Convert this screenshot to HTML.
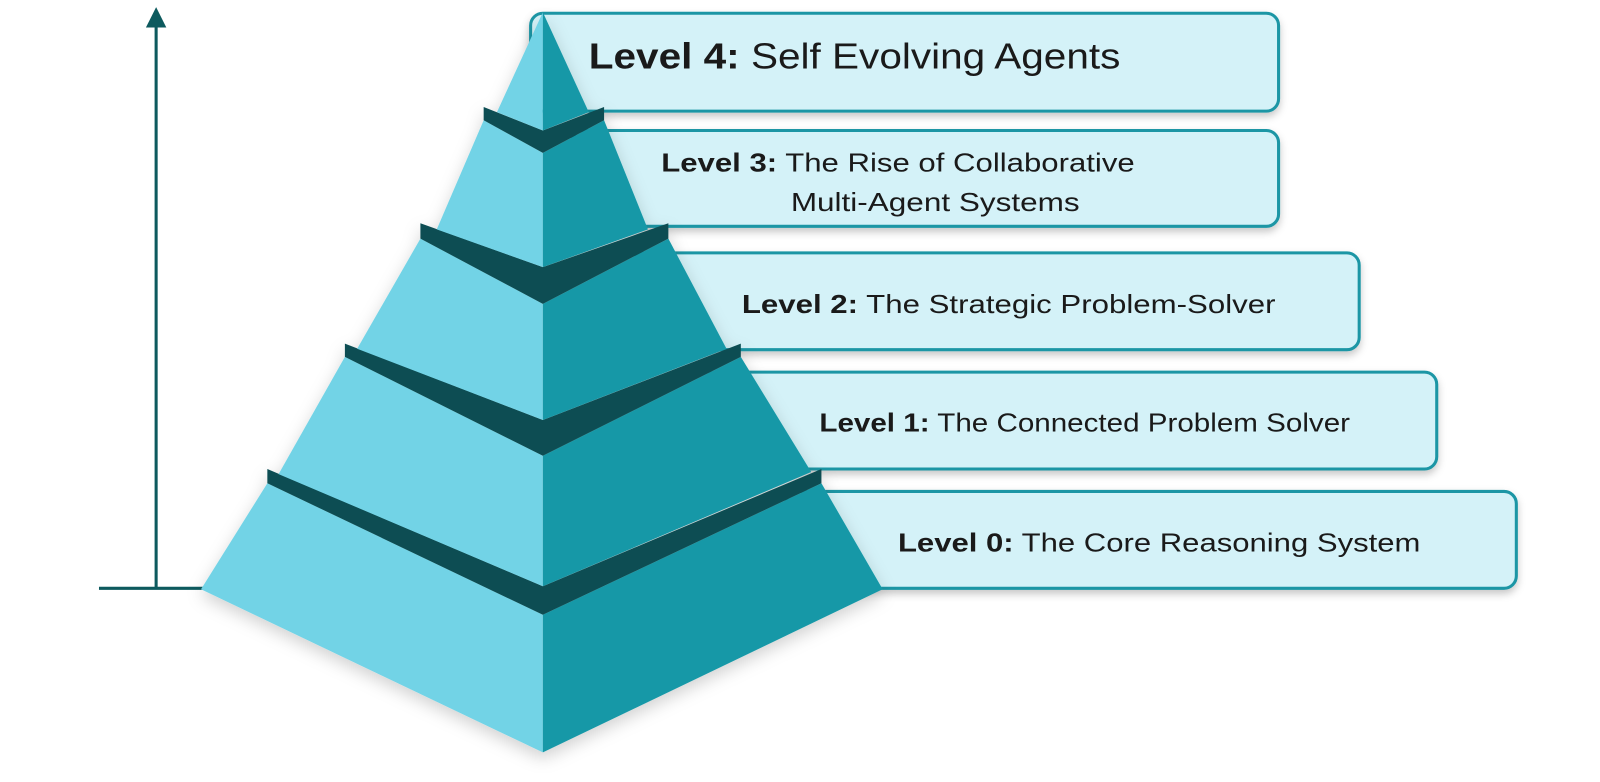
<!DOCTYPE html>
<html><head><meta charset="utf-8"><style>
html,body{margin:0;padding:0;background:#fff;width:1600px;height:782px;overflow:hidden}
svg{display:block}
text{font-family:"Liberation Sans",sans-serif;fill:#1a1a1a}
.b{font-weight:bold}
</style></head><body>
<svg width="1600" height="782" viewBox="0 0 1568 767" preserveAspectRatio="none" xmlns="http://www.w3.org/2000/svg">
<defs>
<filter id="sh" x="-5%" y="-20%" width="110%" height="150%"><feDropShadow dx="0" dy="4" stdDeviation="4" flood-color="#000" flood-opacity="0.22"/></filter>
<filter id="ps" x="-10%" y="-5%" width="120%" height="115%"><feDropShadow dx="0" dy="6" stdDeviation="8" flood-color="#000" flood-opacity="0.18"/></filter>
</defs>
<line x1="153" y1="22" x2="153" y2="578" stroke="#0d5a5e" stroke-width="3"/>
<polygon points="153,7 143,27 163,27" fill="#0d5a5e"/>
<line x1="97" y1="577" x2="200" y2="577" stroke="#0d5a5e" stroke-width="3"/>
<g filter="url(#sh)" fill="#d4f2f8" stroke="#1a96a5" stroke-width="3">
<rect x="520" y="13" width="733" height="96" rx="12"/>
<rect x="560" y="128" width="693" height="94" rx="12"/>
<rect x="620" y="248" width="712" height="95" rx="12"/>
<rect x="690" y="365" width="718" height="95" rx="12"/>
<rect x="770" y="482" width="716" height="95" rx="12"/>
</g>
<text x="577" y="67" font-size="35" textLength="521" lengthAdjust="spacingAndGlyphs"><tspan class="b">Level 4:</tspan> Self Evolving Agents</text>
<text x="648" y="168" font-size="25" textLength="464" lengthAdjust="spacingAndGlyphs"><tspan class="b">Level 3:</tspan> The Rise of Collaborative</text>
<text x="775" y="207" font-size="25" textLength="283" lengthAdjust="spacingAndGlyphs">Multi-Agent Systems</text>
<text x="727" y="307" font-size="25" textLength="523" lengthAdjust="spacingAndGlyphs"><tspan class="b">Level 2:</tspan> The Strategic Problem-Solver</text>
<text x="803" y="423" font-size="25" textLength="520" lengthAdjust="spacingAndGlyphs"><tspan class="b">Level 1:</tspan> The Connected Problem Solver</text>
<text x="880" y="541" font-size="25" textLength="512" lengthAdjust="spacingAndGlyphs"><tspan class="b">Level 0:</tspan> The Core Reasoning System</text>
<g filter="url(#ps)">
<polygon points="262,474 532,603 532,738 197,578" fill="#72d3e6"/>
<polygon points="532,603 805,474 865,578 532,738" fill="#1898a7"/>
<polygon points="262,460 532,575 805,460 805,474 532,603 262,474" fill="#0a4d52"/>
<polygon points="338,350 532,447 532,575 273,465" fill="#72d3e6"/>
<polygon points="532,447 726,350 795,463 532,575" fill="#1898a7"/>
<polygon points="338,337 532,412 726,337 726,350 532,447 338,350" fill="#0a4d52"/>
<polygon points="412,234 532,298 532,412 350,342" fill="#72d3e6"/>
<polygon points="532,298 655,234 712,342 532,412" fill="#1898a7"/>
<polygon points="412,219 532,262 655,219 655,234 532,298 412,234" fill="#0a4d52"/>
<polygon points="474,118 532,150 532,262 428,225" fill="#72d3e6"/>
<polygon points="532,150 592,118 635,225 532,262" fill="#1898a7"/>
<polygon points="474,105 532,128 592,105 592,118 532,150 474,118" fill="#0a4d52"/>
<polygon points="532,12 532,128 487,110" fill="#72d3e6"/>
<polygon points="532,12 577,110 532,128" fill="#1898a7"/>
</g>
</svg>
</body></html>
